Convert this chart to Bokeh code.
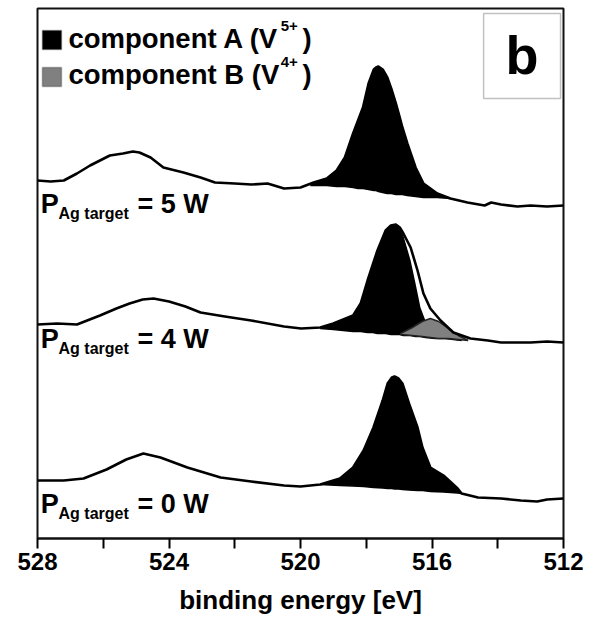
from bokeh.plotting import figure
from bokeh.models import Range1d, FixedTicker, Label, BoxAnnotation
from bokeh.embed import file_html
from bokeh.resources import INLINE

# ---------------- data (binding energy [eV], intensity with stacking offset) -------------
x_ticks = [528, 524, 520, 516, 512]
x_minor = [526, 522, 518, 514]

# P_Ag target = 5 W  (top spectrum)
e_5w = [528.0, 527.6, 527.2, 526.8, 526.4, 525.8, 525.4, 525.1, 524.9, 524.56, 524.17, 523.56,
        523.04, 522.6, 522.0, 521.5, 521.0, 520.5, 520.0, 519.6, 519.2, 518.9, 518.65, 518.4,
        518.25, 518.1, 517.93, 517.77, 517.7, 517.63, 517.5, 517.36, 517.23, 517.1, 516.98,
        516.9, 516.75, 516.5, 516.26, 515.84, 515.44, 514.92, 514.4, 514.2, 513.9, 513.4,
        513.0, 512.5, 512.0]
i_5w = [358, 357, 358, 365, 373, 383, 385, 387, 386, 381, 371, 366,
        361, 356, 355, 354, 355, 350, 351, 356, 360, 368, 381, 405,
        418, 431, 455, 469, 471, 472, 469, 461, 449, 435, 421,
        411, 395, 371, 355, 345, 340, 336, 333, 336, 334, 332,
        333, 332, 333]
a5_e = [519.7, 519.2, 518.9, 518.65, 518.4, 518.25, 518.1, 517.93, 517.77, 517.7, 517.63,
        517.5, 517.36, 517.23, 517.1, 516.98, 516.9, 516.75, 516.5, 516.26, 515.84, 515.44]
a5_top = [354, 360, 368, 381, 405, 418, 431, 455, 469, 471, 472,
          469, 461, 449, 435, 421, 411, 395, 371, 355, 345, 340]
a5_bot = [353, 353, 352, 352, 351, 350, 350, 349, 348, 348, 347,
          346, 345, 345, 344, 344, 344, 343, 342, 341, 341, 340]

# P_Ag target = 4 W  (middle spectrum)
e_4w = [528.0, 527.4, 526.8, 526.1, 525.6, 525.2, 524.8, 524.47, 524.0, 523.5, 523.04, 522.3,
        521.5, 520.5, 519.98, 519.4, 519.0, 518.4, 518.17, 517.96, 517.8, 517.66, 517.41,
        517.25, 517.1, 516.98, 516.87, 516.65, 516.44, 516.26, 516.05, 515.74, 515.35, 514.83,
        514.3, 513.9, 513.0, 512.5, 512.0]
i_4w = [214, 215, 214, 223, 230, 235, 239, 240, 237, 232, 226, 222,
        218, 212, 210, 211, 215, 223, 235, 258, 274, 288, 308,
        313, 314, 311, 305, 291, 268, 245, 230, 218, 206, 200,
        198, 196, 196, 197, 196]
a4_e = [519.4, 519.0, 518.4, 518.17, 517.96, 517.8, 517.66, 517.41, 517.25, 517.1, 516.98,
        516.87, 516.65, 516.5, 516.35, 516.2, 515.9, 515.6, 515.35, 515.1]
a4_top = [211, 215, 223, 235, 258, 274, 288, 308, 313, 314, 310,
          303, 278, 255, 231, 218, 208, 203, 200, 198.5]
a4_bot = [210, 209, 207, 207, 206, 206, 205, 205, 204, 204, 204,
          203, 203, 202, 202, 201, 200, 200, 199, 198]
b4_e = [516.96, 516.6, 516.3, 516.05, 515.8, 515.5, 515.2, 514.9]
b4_top = [205, 211, 217, 220, 217, 210, 203, 198]
b4_bot = [204, 203, 202, 201, 200, 200, 199, 198]

# P_Ag target = 0 W  (bottom spectrum)
e_0w = [528.0, 527.2, 526.6, 525.9, 525.3, 524.78, 524.26, 523.44, 522.43, 521.5, 520.5,
        520.0, 519.4, 518.8, 518.4, 518.08, 517.78, 517.5, 517.35, 517.22, 517.14, 517.02,
        516.9, 516.7, 516.44, 516.29, 516.05, 515.65, 515.22, 515.1, 514.6, 513.9, 513.3,
        512.8, 512.5, 512.0]
i_0w = [58, 58, 60, 69, 79, 85, 81, 71, 61, 57, 53,
        52, 54, 60, 71, 88, 111, 138, 155, 161, 162, 160,
        155, 135, 111, 91, 71, 63, 50, 45, 41, 40, 38,
        37, 39, 40]
a0_e = [519.4, 518.8, 518.4, 518.08, 517.78, 517.5, 517.35, 517.22, 517.14, 517.02, 516.9,
        516.7, 516.44, 516.29, 516.05, 515.65, 515.22, 515.1]
a0_top = [54, 60, 71, 88, 111, 138, 155, 161, 162, 160, 155, 135, 111, 91, 71, 63, 50, 45]
a0_bot = [54, 53, 52.5, 52, 51, 50.5, 50, 50, 49.5, 49.5, 49, 48.5, 48, 48, 47, 46.5, 45.5, 45]

labels = ["= 5 W", "= 4 W", "= 0 W"]
legend_names = ["component A (V", "component B (V"]
legend_sup = ["5+", "4+"]

FONT = "Liberation Sans"

p = figure(width=603, height=637, output_backend="svg", toolbar_location=None,
           x_range=Range1d(528, 512), y_range=Range1d(0, 530),
           y_axis_location=None,
           min_border_left=37, min_border_right=40, min_border_top=8, min_border_bottom=99)
p.xgrid.visible = False
p.ygrid.visible = False
p.outline_line_color = "#111111"
p.outline_line_width = 2
p.background_fill_color = "white"
p.border_fill_color = "white"

ax = p.xaxis[0]
ax.ticker = FixedTicker(ticks=x_ticks, minor_ticks=x_minor)
ax.axis_line_width = 2
ax.axis_line_color = "#111111"
ax.major_tick_line_width = 2
ax.minor_tick_line_width = 2
ax.major_tick_in = 0
ax.major_tick_out = 10
ax.minor_tick_in = 0
ax.minor_tick_out = 10
ax.major_label_text_font = FONT
ax.major_label_text_font_style = "bold"
ax.major_label_text_font_size = "24px"
ax.major_label_text_color = "black"
ax.major_label_standoff = 4
ax.axis_label = "binding energy [eV]"
ax.axis_label_text_font = FONT
ax.axis_label_text_font_style = "bold"
ax.axis_label_text_font_size = "26px"
ax.axis_label_text_color = "black"
ax.axis_label_standoff = 12

# component fills
for xe, top, bot in [(a5_e, a5_top, a5_bot), (a4_e, a4_top, a4_bot), (a0_e, a0_top, a0_bot)]:
    p.varea(x=xe, y1=bot, y2=top, fill_color="black")
    p.line(x=xe, y=bot, line_color="black", line_width=1.5)
p.varea(x=b4_e, y1=b4_bot, y2=b4_top, fill_color="#808080")
p.line(x=b4_e, y=b4_top, line_color="#222222", line_width=1.5)
p.line(x=b4_e, y=b4_bot, line_color="#222222", line_width=1.5)

# spectra
for xe, ie in [(e_5w, i_5w), (e_4w, i_4w), (e_0w, i_0w)]:
    p.line(x=xe, y=ie, line_color="black", line_width=2.6, line_join="round")

# P_Ag target labels (baseline y, data units)
for lab, yb in zip(labels, [335, 200, 35]):
    p.add_layout(Label(x=527.9, y=yb, text="P", text_font=FONT, text_font_style="bold",
                       text_font_size="27px", text_baseline="alphabetic", text_color="black"))
    p.add_layout(Label(x=527.36, y=yb - 10, text="Ag target", text_font=FONT,
                       text_font_style="bold", text_font_size="16px",
                       text_baseline="alphabetic", text_color="black"))
    p.add_layout(Label(x=524.96, y=yb, text=lab, text_font=FONT, text_font_style="bold",
                       text_font_size="27px", text_baseline="alphabetic", text_color="black"))

# legend
for name, sup, col, yb, sq_top in zip(legend_names, legend_sup, ["black", "#808080"],
                                      [500, 464], [508, 471]):
    p.add_layout(BoxAnnotation(left=527.85, right=527.27, top=sq_top, bottom=sq_top - 19,
                               fill_color=col, fill_alpha=1, line_color="#222222",
                               line_width=1.5))
    p.add_layout(Label(x=527.06, y=yb, text=name, text_font=FONT, text_font_style="bold",
                       text_font_size="27.5px", text_baseline="alphabetic", text_color="black"))
    p.add_layout(Label(x=520.6, y=yb + 13, text=sup, text_font=FONT, text_font_style="bold",
                       text_font_size="15px", text_baseline="alphabetic", text_color="black"))
    p.add_layout(Label(x=519.94, y=yb, text=")", text_font=FONT, text_font_style="bold",
                       text_font_size="27.5px", text_baseline="alphabetic", text_color="black"))

# panel letter box
p.add_layout(BoxAnnotation(left=514.43, right=512.09, top=525, bottom=440,
                           fill_color="white", fill_alpha=1, line_color="#333333",
                           line_width=1.5))
p.add_layout(Label(x=513.26, y=484, text="b", text_font=FONT, text_font_style="bold",
                   text_font_size="54px", text_align="center", text_baseline="middle",
                   text_color="black"))

open("out.html", "w").write(file_html(p, INLINE))
